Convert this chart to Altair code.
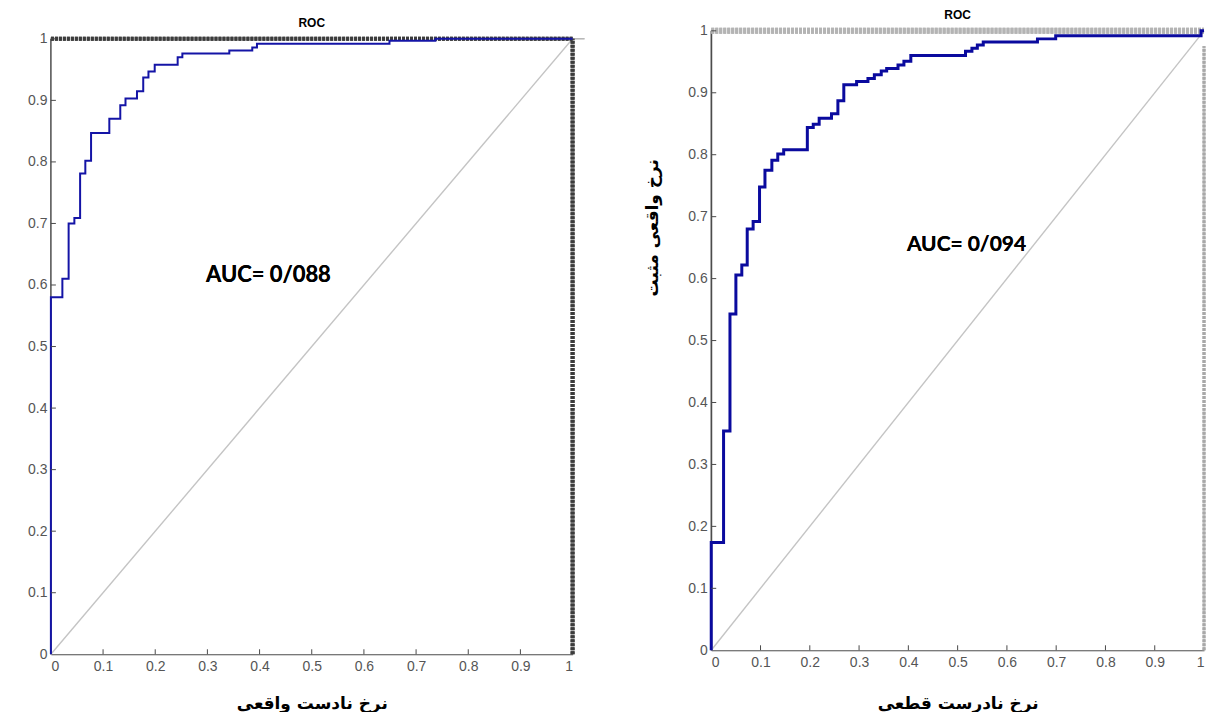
import altair as alt
import pandas as pd

# ---------------- data ----------------
left_fpr = [0, 0, 0.022, 0.034, 0.045, 0.056, 0.066, 0.077, 0.112, 0.133, 0.143, 0.165,
            0.177, 0.187, 0.199, 0.243, 0.252, 0.342, 0.386, 0.395, 0.649, 0.737, 1.0]
left_tpr = [0, 0.58, 0.61, 0.70, 0.709, 0.781, 0.802, 0.847, 0.870, 0.892, 0.903, 0.915,
            0.937, 0.947, 0.958, 0.970, 0.976, 0.981, 0.986, 0.992, 0.997, 1.0, 1.0]

right_fpr = [0, 0, 0.025, 0.038, 0.050, 0.062, 0.073, 0.085, 0.098, 0.109, 0.123, 0.135,
             0.147, 0.195, 0.207, 0.219, 0.244, 0.257, 0.269, 0.295, 0.318, 0.331, 0.345,
             0.356, 0.379, 0.391, 0.405, 0.516, 0.529, 0.540, 0.552, 0.662, 0.699, 0.994, 1.0]
right_tpr = [0, 0.174, 0.354, 0.543, 0.606, 0.622, 0.680, 0.692, 0.748, 0.775, 0.791, 0.801,
             0.808, 0.844, 0.849, 0.859, 0.866, 0.887, 0.913, 0.918, 0.923, 0.929, 0.935,
             0.939, 0.945, 0.951, 0.960, 0.967, 0.972, 0.977, 0.982, 0.987, 0.992, 1.0, 1.0]

diag_x = [0, 1]
diag_y = [0, 1]

ticks = [0, 0.1, 0.2, 0.3, 0.4, 0.5, 0.6, 0.7, 0.8, 0.9, 1]
inner_ticks = [0.1, 0.2, 0.3, 0.4, 0.5, 0.6, 0.7, 0.8, 0.9]

title_text = "ROC"
left_auc = "AUC= 0/088"
right_auc = "AUC= 0/094"
left_xtitle = "نرخ نادست واقعی"
right_xtitle = "نرخ نادرست قطعی"
right_ytitle = "نرخ واقعی مثبت"

# ---------------- helpers ----------------
LABEL_FONT = "Liberation Sans Narrow, Liberation Sans, Arial"
TITLE_FONT = "DejaVu Sans"

def axis_x(title, tpad):
    return alt.Axis(values=ticks, format="~g", title=title, grid=False, tickSize=0,
                    labelPadding=5, labelFontSize=14, labelFont=LABEL_FONT,
                    labelColor="#555555", domainColor="#4a4a4a",
                    titleFont=TITLE_FONT, titleFontSize=17, titleFontWeight="bold",
                    titleColor="#000000", titlePadding=tpad)

def build_panel(fpr, tpr, auc, auc_x, auc_y, auc_size, W, H, ytop, xtitle, ytitle,
                curve_color, curve_width, top_color, top_width, right_color, right_width,
                right_top, title_offset, tpad, extend_top):
    xs = alt.Scale(domain=[0, 1], nice=False, zero=False)
    ys = alt.Scale(domain=[0, ytop], nice=False, zero=False)

    curve_df = pd.DataFrame({"fpr": fpr, "tpr": tpr})
    diag_df = pd.DataFrame({"fpr": diag_x, "tpr": diag_y})
    tick_df = pd.DataFrame({"t": inner_ticks})
    ytick_df = pd.DataFrame({"t": inner_ticks + [1]})

    if ytitle is None:
        yaxis = alt.Axis(values=ticks, format="~g", title=None, grid=False, tickSize=0,
                         labelPadding=4, labelFontSize=14, labelFont=LABEL_FONT,
                         labelColor="#555555", domain=False)
    else:
        yaxis = alt.Axis(values=ticks, format="~g", title=ytitle, grid=False, tickSize=0,
                         labelPadding=4, labelFontSize=14, labelFont=LABEL_FONT,
                         labelColor="#555555", domainColor="#4a4a4a",
                         titleFont=TITLE_FONT, titleFontSize=17, titleFontWeight="bold",
                         titleColor="#000000", titleX=-59, titleY=197, titleAngle=-90,
                         titleAlign="center", titleBaseline="middle")

    diag = alt.Chart(diag_df).mark_line(color="#c4c4c4", strokeWidth=1.4).encode(
        x=alt.X("fpr:Q", scale=xs, axis=axis_x(xtitle, tpad)),
        y=alt.Y("tpr:Q", scale=ys, axis=yaxis),
    )

    left_line = alt.Chart(diag_df).mark_rule(color="#4a4a4a", strokeWidth=1).encode(
        x=alt.datum(0, scale=xs), y=alt.datum(0, scale=ys), y2=alt.datum(1),
    )

    xt = alt.Chart(tick_df).mark_rule(color="#4a4a4a", strokeWidth=1).encode(
        x=alt.X("t:Q", scale=xs), y=alt.value(H), y2=alt.value(H - 5),
    )
    yt = alt.Chart(ytick_df).mark_rule(color="#4a4a4a", strokeWidth=1).encode(
        y=alt.Y("t:Q", scale=ys), x=alt.value(0), x2=alt.value(5),
    )

    top = alt.Chart(diag_df).mark_rule(color=top_color, strokeWidth=top_width,
                                        strokeDash=[3, 1]).encode(
        x=alt.datum(0, scale=xs), x2=alt.datum(1), y=alt.datum(1, scale=ys),
    )
    right = alt.Chart(diag_df).mark_rule(color=right_color, strokeWidth=right_width,
                                          strokeDash=[3, 1]).encode(
        x=alt.datum(1, scale=xs), y=alt.datum(0, scale=ys), y2=alt.datum(right_top),
    )

    curve = alt.Chart(curve_df).mark_line(color=curve_color, strokeWidth=curve_width,
                                          interpolate="step-after").encode(
        x=alt.X("fpr:Q", scale=xs), y=alt.Y("tpr:Q", scale=ys), order="index:Q",
    ).transform_window(index="row_number()")

    txt = alt.Chart(diag_df).mark_text(font="Lato", fontWeight="bold", fontSize=auc_size,
                                       color="#000000", align="center",
                                       baseline="middle").encode(
        x=alt.datum(auc_x, scale=xs), y=alt.datum(auc_y, scale=ys),
        text=alt.value(auc),
    )

    layers = [diag, left_line, top, right, curve, xt, yt, txt]
    if extend_top:
        top_ext = alt.Chart(diag_df).mark_rule(color="#b0b0b0", strokeWidth=1).encode(
            x=alt.datum(1, scale=xs), x2=alt.value(W + 12), y=alt.datum(1, scale=ys),
        )
        layers.insert(3, top_ext)

    return alt.layer(*layers).properties(
        width=W, height=H,
        title=alt.TitleParams(title_text, fontSize=12, fontWeight="bold",
                              font="Liberation Sans", color="#000000",
                              offset=title_offset, frame="group"),
    )

left = build_panel(left_fpr, left_tpr, left_auc, 0.417, 0.616, 22, 523, 625, 1.013,
                   left_xtitle, None, "#1414a6", 2, "#3c3c3c", 4, "#3c3c3c", 4, 1.0, 1, 22,
                   True)
right = build_panel(right_fpr, right_tpr, right_auc, 0.518, 0.655, 21, 494, 621, 1.0,
                    right_xtitle, right_ytitle, "#0a0a9e", 3, "#b4b4b4", 6, "#a8a8a8", 3,
                    0.975, 2, 26, False)

chart = alt.hconcat(left, right, spacing=58).resolve_scale(
    x="independent", y="independent"
).configure_view(stroke=None).properties(
    padding={"left": 19, "top": 0, "right": 0, "bottom": 0}
)

chart.save("out.html", embed_options={"renderer": "svg", "actions": False})
